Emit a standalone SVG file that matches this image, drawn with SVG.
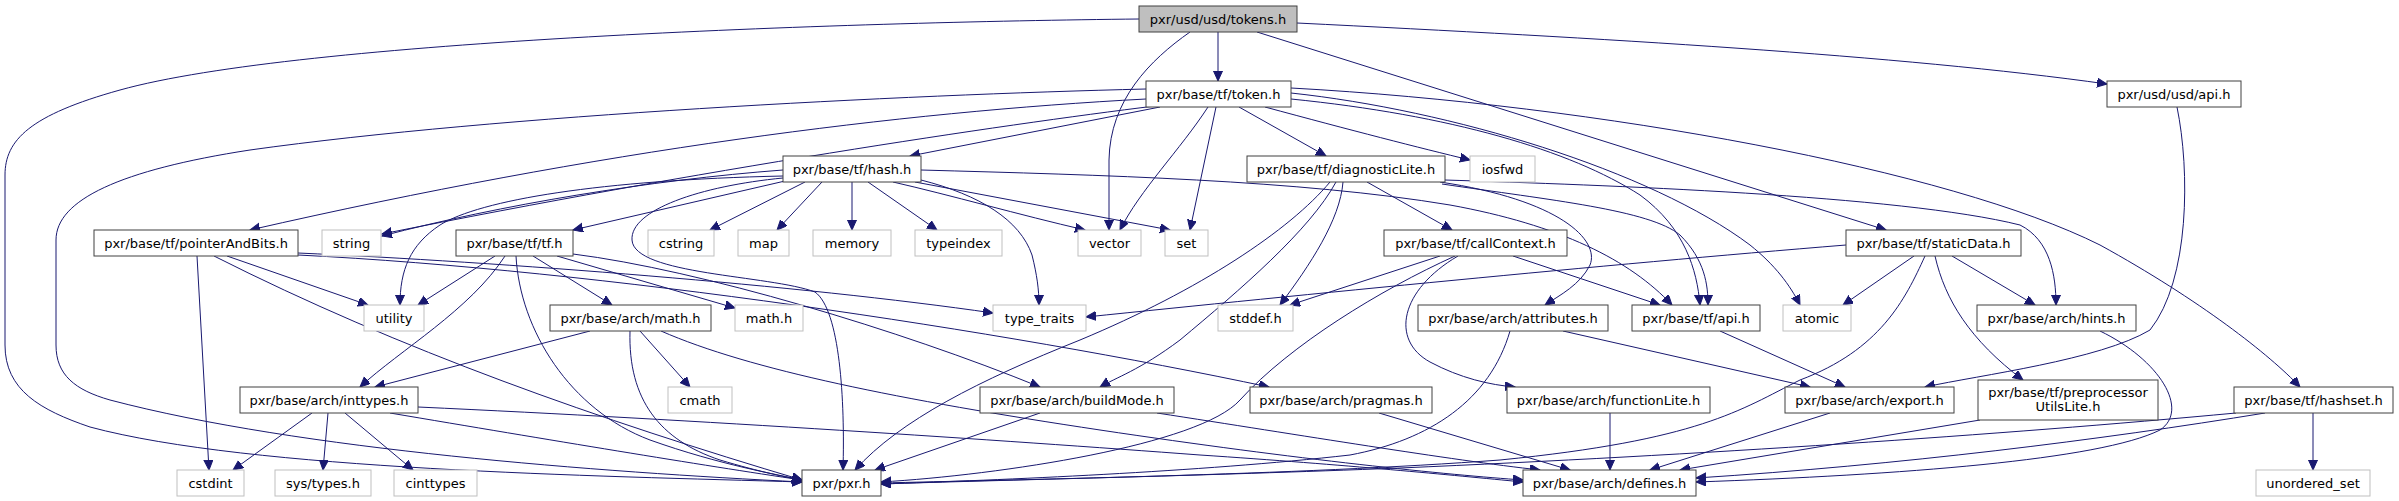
<svg xmlns="http://www.w3.org/2000/svg" width="2399" height="501" viewBox="0 0 2399 501">
<style>
.n rect{fill:#fff;stroke:#404040;stroke-width:1}
.g rect{fill:#fff;stroke:#bfbfbf;stroke-width:1}
.r rect{fill:#bfbfbf;stroke:#404040;stroke-width:1}
text{font-family:"DejaVu Sans",sans-serif;font-size:13px;fill:#000;text-anchor:middle}
#edges path{fill:none;stroke:#191970;stroke-width:1;marker-end:url(#ah)}
</style>
<defs>
<marker id="ah" markerUnits="userSpaceOnUse" markerWidth="12" markerHeight="10" refX="10" refY="4.5" orient="auto"><path d="M0,0 L10,4.5 L0,9 z" fill="#191970" stroke="#191970" stroke-width="1"/></marker>
</defs>
<rect width="2399" height="501" fill="#fff"/>
<g id="edges">
<path d="M1139,19 C850,22 300,40 120,90 C30,115 5,140 5,175 L5,345 C5,390 40,410 90,427 C250,470 600,476 802,482"/>
<path d="M1190,32 C1150,60 1110,100 1109,160 L1109,230"/>
<path d="M1218,32 L1218,81"/>
<path d="M1257,32 L1886,230"/>
<path d="M1297,23 C1600,38 1900,55 2107,84"/>
<path d="M1146,89 C900,95 500,115 250,150 C120,170 56,200 56,240 L56,345 C56,375 75,390 110,400 C300,450 600,472 802,482"/>
<path d="M1146,99 C900,112 600,150 250,230"/>
<path d="M1155,106 C1000,125 700,170 382,234"/>
<path d="M1160,107 L910,156"/>
<path d="M1208,107 C1180,150 1140,190 1120,230"/>
<path d="M1216,107 L1190,230"/>
<path d="M1239,107 L1326,156"/>
<path d="M1265,107 C1350,130 1420,148 1470,160"/>
<path d="M1291,99 C1450,115 1570,150 1640,195 C1685,228 1697,270 1700,305"/>
<path d="M1291,93 C1450,110 1650,170 1750,245 C1775,265 1790,285 1800,305"/>
<path d="M1291,88 C1600,105 1950,170 2100,245 C2200,300 2270,355 2300,387"/>
<path d="M783,170 C650,180 500,205 382,236"/>
<path d="M783,176 C600,180 480,200 440,225 C410,245 400,270 400,305"/>
<path d="M785,181 L573,230"/>
<path d="M805,182 L710,230"/>
<path d="M822,182 L777,230"/>
<path d="M852,182 L852,230"/>
<path d="M868,182 L937,230"/>
<path d="M893,182 C950,195 1020,215 1085,230"/>
<path d="M915,182 L1170,230"/>
<path d="M921,180 C980,195 1020,220 1032,255 C1037,275 1039,290 1039,305"/>
<path d="M783,178 C700,186 630,210 632,240 C634,275 770,275 815,292 C840,310 845,400 843,470"/>
<path d="M921,170 C1100,175 1300,180 1450,205 C1560,225 1630,260 1672,305"/>
<path d="M1367,182 L1452,230"/>
<path d="M1343,182 C1340,220 1310,265 1280,305"/>
<path d="M1336,182 C1310,230 1240,290 1180,340 C1140,370 1115,378 1100,387"/>
<path d="M1330,182 C1290,230 1200,290 1080,340 C980,380 900,420 855,470"/>
<path d="M1440,182 C1560,200 1600,240 1590,265 C1580,285 1560,295 1545,305"/>
<path d="M1442,184 C1550,200 1650,210 1680,235 C1705,260 1708,285 1708,305"/>
<path d="M1445,180 C1600,185 1900,195 2020,225 C2050,240 2056,275 2056,305"/>
<path d="M1440,256 L1290,305"/>
<path d="M1455,256 C1380,290 1290,345 1240,400 C1200,445 1000,475 881,482"/>
<path d="M1458,256 C1400,290 1390,340 1430,362 C1460,378 1490,385 1515,387"/>
<path d="M1513,256 L1660,305"/>
<path d="M1846,245 C1600,265 1300,295 1086,317"/>
<path d="M1914,256 L1843,305"/>
<path d="M1925,256 C1905,300 1880,350 1800,380 C1740,410 1700,440 1500,460 C1300,475 1000,480 881,483"/>
<path d="M1935,256 C1945,300 1970,340 2023,380"/>
<path d="M1952,256 L2035,305"/>
<path d="M1563,331 L1810,387"/>
<path d="M1510,331 C1490,400 1430,440 1350,455 C1200,472 1000,480 881,484"/>
<path d="M1720,331 L1845,387"/>
<path d="M1610,413 L1610,470"/>
<path d="M1830,413 L1650,470"/>
<path d="M2177,107 C2190,170 2190,280 2150,330 C2100,360 1980,375 1925,387"/>
<path d="M2100,331 C2160,360 2190,410 2160,430 C2100,460 1900,475 1696,482"/>
<path d="M1980,420 L1680,470"/>
<path d="M2236,413 C2000,435 1700,455 1400,468 C1200,476 1000,480 881,484"/>
<path d="M2265,413 C2100,440 1900,465 1696,478"/>
<path d="M2313,413 L2313,470"/>
<path d="M312,413 L233,470"/>
<path d="M328,413 L323,470"/>
<path d="M345,413 L413,470"/>
<path d="M390,413 C550,440 700,465 802,480"/>
<path d="M418,407 C700,420 1000,440 1200,455 C1350,465 1450,475 1523,482"/>
<path d="M590,331 L375,387"/>
<path d="M640,331 L690,387"/>
<path d="M630,331 C628,400 660,440 720,460 C760,472 790,478 802,480"/>
<path d="M661,331 C750,370 900,400 1100,430 C1300,460 1450,475 1523,480"/>
<path d="M1040,413 L875,470"/>
<path d="M1157,413 C1300,435 1450,460 1540,470"/>
<path d="M1379,413 L1570,470"/>
<path d="M197,256 L209,470"/>
<path d="M227,256 L368,305"/>
<path d="M214,256 C400,350 600,420 802,480"/>
<path d="M298,253 C500,262 800,285 993,313"/>
<path d="M298,255 C600,270 1000,330 1269,387"/>
<path d="M495,256 L418,305"/>
<path d="M505,256 C470,310 400,350 360,387"/>
<path d="M516,256 C520,330 570,410 650,440 C720,465 780,475 802,480"/>
<path d="M533,256 L612,305"/>
<path d="M557,256 L735,308"/>
<path d="M573,254 C700,270 900,330 1040,387"/>
</g>
<g id="n_tokens" class="r"><rect x="1139" y="6" width="158" height="26"/><text x="1218" y="23.5">pxr/usd/usd/tokens.h</text></g>
<g id="n_token" class="n"><rect x="1146" y="81" width="145" height="26"/><text x="1218.5" y="98.5">pxr/base/tf/token.h</text></g>
<g id="n_usdapi" class="n"><rect x="2107" y="81" width="134" height="26"/><text x="2174" y="98.5">pxr/usd/usd/api.h</text></g>
<g id="n_hash" class="n"><rect x="783" y="156" width="138" height="26"/><text x="852" y="173.5">pxr/base/tf/hash.h</text></g>
<g id="n_diag" class="n"><rect x="1247" y="156" width="198" height="26"/><text x="1346" y="173.5">pxr/base/tf/diagnosticLite.h</text></g>
<g id="n_iosfwd" class="g"><rect x="1470" y="156" width="65" height="26"/><text x="1502.5" y="173.5">iosfwd</text></g>
<g id="n_pab" class="n"><rect x="94" y="230" width="204" height="26"/><text x="196" y="247.5">pxr/base/tf/pointerAndBits.h</text></g>
<g id="n_string" class="g"><rect x="322" y="230" width="59" height="26"/><text x="351.5" y="247.5">string</text></g>
<g id="n_tf" class="n"><rect x="456" y="230" width="117" height="26"/><text x="514.5" y="247.5">pxr/base/tf/tf.h</text></g>
<g id="n_cstring" class="g"><rect x="648" y="230" width="66" height="26"/><text x="681" y="247.5">cstring</text></g>
<g id="n_map" class="g"><rect x="738" y="230" width="51" height="26"/><text x="763.5" y="247.5">map</text></g>
<g id="n_memory" class="g"><rect x="813" y="230" width="78" height="26"/><text x="852" y="247.5">memory</text></g>
<g id="n_typeindex" class="g"><rect x="915" y="230" width="87" height="26"/><text x="958.5" y="247.5">typeindex</text></g>
<g id="n_vector" class="g"><rect x="1078" y="230" width="63" height="26"/><text x="1109.5" y="247.5">vector</text></g>
<g id="n_set" class="g"><rect x="1165" y="230" width="43" height="26"/><text x="1186.5" y="247.5">set</text></g>
<g id="n_callctx" class="n"><rect x="1384" y="230" width="183" height="26"/><text x="1475.5" y="247.5">pxr/base/tf/callContext.h</text></g>
<g id="n_static" class="n"><rect x="1846" y="230" width="175" height="26"/><text x="1933.5" y="247.5">pxr/base/tf/staticData.h</text></g>
<g id="n_utility" class="g"><rect x="364" y="305" width="60" height="26"/><text x="394" y="322.5">utility</text></g>
<g id="n_amath" class="n"><rect x="550" y="305" width="161" height="26"/><text x="630.5" y="322.5">pxr/base/arch/math.h</text></g>
<g id="n_mathh" class="g"><rect x="735" y="305" width="68" height="26"/><text x="769" y="322.5">math.h</text></g>
<g id="n_typetraits" class="g"><rect x="993" y="305" width="93" height="26"/><text x="1039.5" y="322.5">type_traits</text></g>
<g id="n_stddef" class="g"><rect x="1218" y="305" width="75" height="26"/><text x="1255.5" y="322.5">stddef.h</text></g>
<g id="n_attr" class="n"><rect x="1418" y="305" width="190" height="26"/><text x="1513" y="322.5">pxr/base/arch/attributes.h</text></g>
<g id="n_tfapi" class="n"><rect x="1632" y="305" width="128" height="26"/><text x="1696" y="322.5">pxr/base/tf/api.h</text></g>
<g id="n_atomic" class="g"><rect x="1783" y="305" width="68" height="26"/><text x="1817" y="322.5">atomic</text></g>
<g id="n_hints" class="n"><rect x="1977" y="305" width="159" height="26"/><text x="2056.5" y="322.5">pxr/base/arch/hints.h</text></g>
<g id="n_inttypes" class="n"><rect x="240" y="387" width="178" height="26"/><text x="329" y="404.5">pxr/base/arch/inttypes.h</text></g>
<g id="n_cmath" class="g"><rect x="668" y="387" width="64" height="26"/><text x="700" y="404.5">cmath</text></g>
<g id="n_build" class="n"><rect x="980" y="387" width="194" height="26"/><text x="1077" y="404.5">pxr/base/arch/buildMode.h</text></g>
<g id="n_pragmas" class="n"><rect x="1250" y="387" width="182" height="26"/><text x="1341" y="404.5">pxr/base/arch/pragmas.h</text></g>
<g id="n_funclite" class="n"><rect x="1507" y="387" width="203" height="26"/><text x="1608.5" y="404.5">pxr/base/arch/functionLite.h</text></g>
<g id="n_export" class="n"><rect x="1785" y="387" width="169" height="26"/><text x="1869.5" y="404.5">pxr/base/arch/export.h</text></g>
<g id="n_prepro" class="n"><rect x="1978" y="380" width="180" height="40"/><text x="2068" y="396.5">pxr/base/tf/preprocessor</text><text x="2068" y="411">UtilsLite.h</text></g>
<g id="n_hashset" class="n"><rect x="2234" y="387" width="159" height="26"/><text x="2313.5" y="404.5">pxr/base/tf/hashset.h</text></g>
<g id="n_cstdint" class="g"><rect x="177" y="470" width="67" height="26"/><text x="210.5" y="487.5">cstdint</text></g>
<g id="n_systypes" class="g"><rect x="275" y="470" width="96" height="26"/><text x="323" y="487.5">sys/types.h</text></g>
<g id="n_cinttypes" class="g"><rect x="394" y="470" width="83" height="26"/><text x="435.5" y="487.5">cinttypes</text></g>
<g id="n_pxr" class="n"><rect x="802" y="470" width="79" height="26"/><text x="841.5" y="487.5">pxr/pxr.h</text></g>
<g id="n_defines" class="n"><rect x="1523" y="470" width="173" height="26"/><text x="1609.5" y="487.5">pxr/base/arch/defines.h</text></g>
<g id="n_unordered" class="g"><rect x="2256" y="470" width="114" height="26"/><text x="2313" y="487.5">unordered_set</text></g>
</svg>
